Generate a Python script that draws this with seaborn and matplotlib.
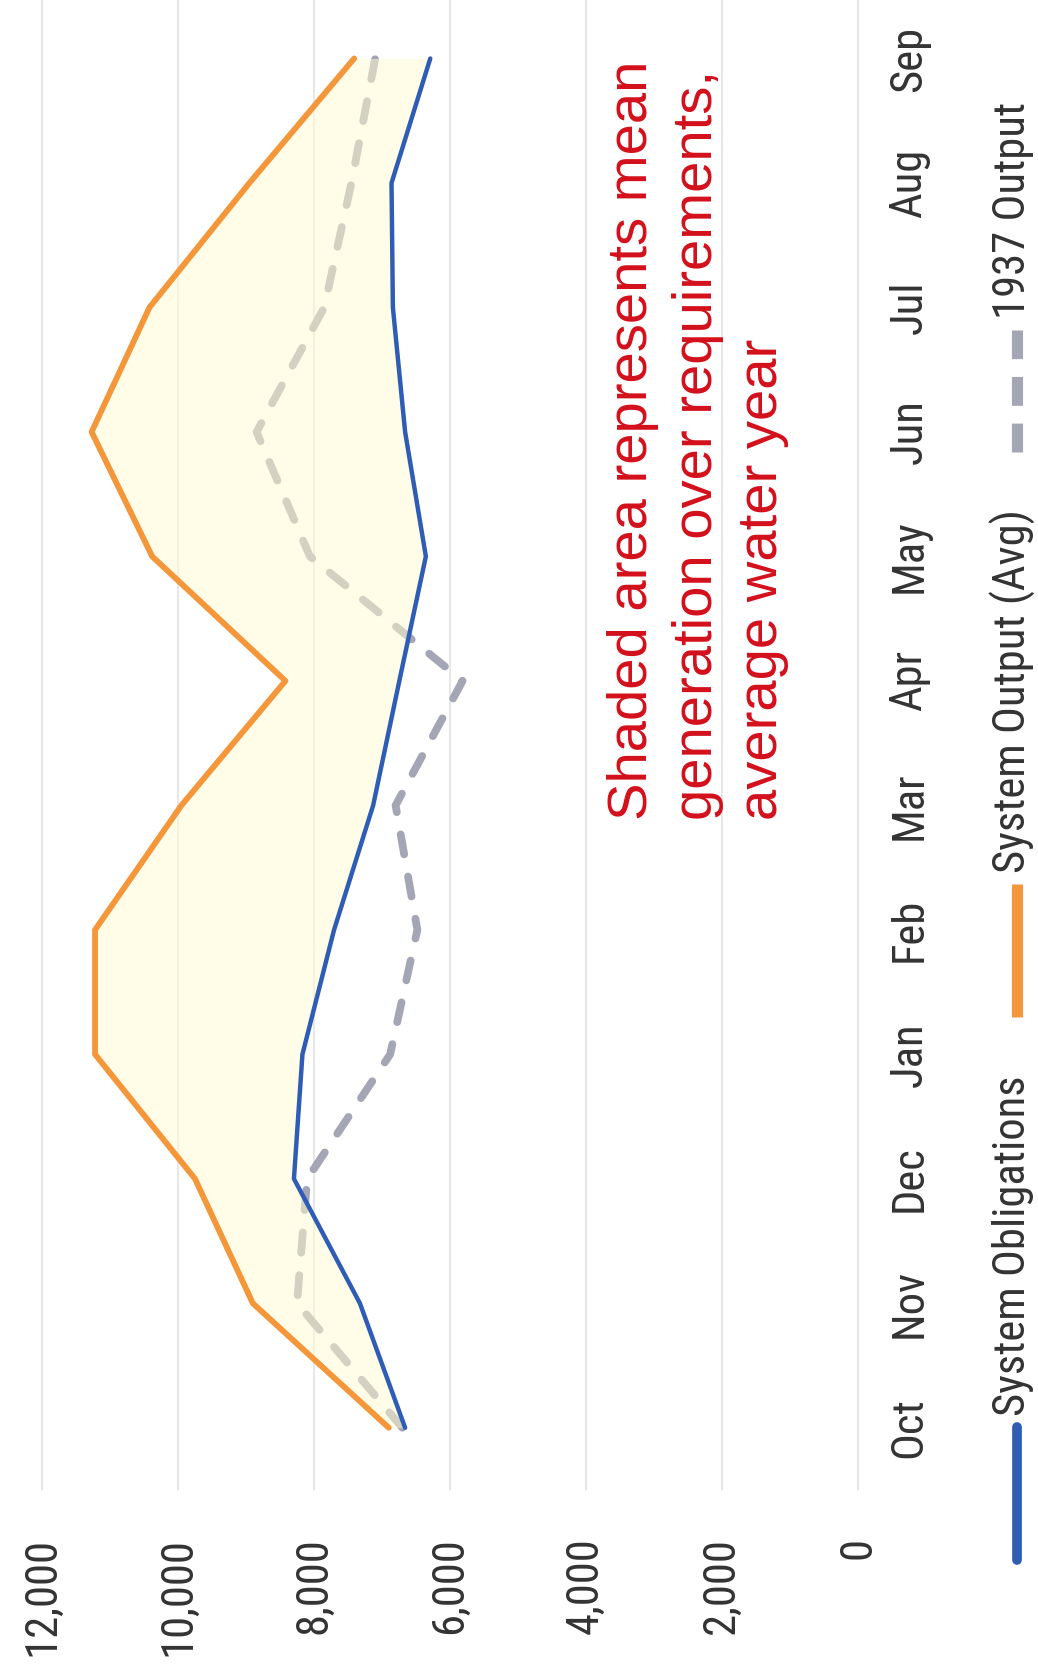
import numpy as np
import pandas as pd
import seaborn as sns
import matplotlib
matplotlib.use("Agg")
import matplotlib.pyplot as plt
from matplotlib import font_manager as fm
from matplotlib.font_manager import FontProperties
from matplotlib.textpath import TextToPath
from matplotlib.lines import Line2D

# ---------------- data ----------------
months = ["Oct", "Nov", "Dec", "Jan", "Feb", "Mar", "Apr", "May", "Jun", "Jul", "Aug", "Sep"]
system_obligations = [6660, 7325, 8295, 8170, 7705, 7130, 6745, 6355, 6660, 6840, 6860, 6290]
system_output_avg = [6900, 8900, 9750, 11220, 11220, 9950, 8420, 10380, 11270, 10420, 8950, 7410]
output_1937 = [6700, 8250, 8100, 6880, 6480, 6800, 5815, 8060, 8845, 7850, 7450, 7100]
value_ticks = [0, 2000, 4000, 6000, 8000, 10000, 12000]
value_tick_labels = ["0", "2,000", "4,000", "6,000", "8,000", "10,000", "12,000"]
series_names = ["System Obligations", "System Output (Avg)", "1937 Output"]
note_text = "Shaded area represents mean\ngeneration over requirements,\naverage water year"

pos = list(range(len(months)))
df = pd.DataFrame({"pos": pos, "oblig": system_obligations,
                   "output": system_output_avg, "y1937": output_1937})

# ---------------- style ----------------
sns.set_style("white")
plt.rcParams["font.family"] = ["Liberation Sans", "DejaVu Sans"]

# choose a narrow / condensed face if one is installed
def pick_narrow():
    cands = []
    for f in fm.fontManager.ttflist:
        nm = f.name
        narrow = ("Narrow" in nm or "Condensed" in nm or
                  str(f.stretch) in ("condensed", "semi-condensed", "extra-condensed", "ultra-condensed")
                  or (isinstance(f.stretch, (int, float)) and f.stretch < 500))
        if not narrow or f.style != "normal":
            continue
        try:
            w = int(f.weight)
        except Exception:
            w = 400 if f.weight in ("normal", "regular", "book") else 700
        if w > 500 or w < 350:
            continue
        pref = 9
        for i, key in enumerate(["Liberation Sans Narrow", "Open Sans", "Noto Sans", "Roboto", "DejaVu Sans", "Lato", "Inter"]):
            if nm.startswith(key):
                pref = i
                break
        if "CJK" in nm or "Mono" in nm or "Serif" in nm:
            continue
        cands.append((pref, f.fname))
    if cands:
        cands.sort()
        return FontProperties(fname=cands[0][1])
    return FontProperties(family="Liberation Sans")

label_fp = pick_narrow()
# size the labels so "System Obligations" spans ~341 px like the reference
probe = label_fp.copy()
probe.set_size(100)
wpt, _, _ = TextToPath().get_text_width_height_descent("System Obligations", probe, ismath=False)
label_size = 100 * (341 * 0.72) / wpt
label_size = max(24, min(label_size, 38))

BLUE = "#2F5DB5"
ORANGE = "#F4963A"
GRAY = "#A5A6B5"
FILL = "#FFFCD0"
RED = "#D3101C"
TXT = "#333333"

W, H = 1038, 1669
fig = plt.figure(figsize=(W / 100, H / 100), dpi=100)
ax = fig.add_axes([42 / W, (H - 1490) / H, 816 / W, 1490 / H])

# 1937 output (under the shading)
sns.lineplot(data=df, x="y1937", y="pos", orient="y", ax=ax, color=GRAY,
             linewidth=5.6, linestyle=(0, (2.6, 2.9)), dash_capstyle="round",
             zorder=2, legend=False)
# shaded area between obligations and output
ax.fill_betweenx(df["pos"], df["oblig"], df["output"], color=FILL, alpha=0.5,
                 linewidth=0, zorder=3)
sns.lineplot(data=df, x="oblig", y="pos", orient="y", ax=ax, color=BLUE,
             linewidth=3.2, zorder=4, legend=False)
sns.lineplot(data=df, x="output", y="pos", orient="y", ax=ax, color=ORANGE,
             linewidth=4.2, zorder=4, legend=False)

ax.set_xlim(12000, 0)
ax.set_ylim(-0.5, 11.47)
ax.set_xlabel("")
ax.set_ylabel("")

ax.set_xticks(value_ticks, labels=value_tick_labels)
ax.tick_params(axis="x", length=0, pad=34, labelrotation=90, labelcolor=TXT)
ax.yaxis.tick_right()
ax.set_yticks(pos, labels=months)
ax.tick_params(axis="y", length=0, pad=22, labelrotation=90, labelcolor=TXT)
for t in ax.get_xticklabels():
    t.set_fontproperties(label_fp)
    t.set_fontsize(label_size)
for t in ax.get_yticklabels():
    t.set_fontproperties(label_fp)
    t.set_fontsize(label_size)
    t.set_va("center")
    t.set_ha("left")

ax.grid(axis="x", color="#E3E3E6", linewidth=1.2)
ax.grid(axis="y", visible=False)
for gl in ax.get_xgridlines():
    gl.set_clip_on(False)
for s in ax.spines.values():
    s.set_visible(False)

# annotation
fig.text(698 / W, (H - 820) / H, note_text, rotation=90, ha="center", va="bottom",
         multialignment="left", color=RED, fontsize=40.5, linespacing=1.33,
         family=["Liberation Sans", "DejaVu Sans"])

# legend (rotated, placed like the reference)
def px(x, y_top):
    return x / W, (H - y_top) / H

lx = 1017
x0, y0 = px(lx, 1560); x1, y1 = px(lx, 1427)
fig.add_artist(Line2D([x0, x1], [y0, y1], color=BLUE, linewidth=7,
                      solid_capstyle="round", transform=fig.transFigure))
x0, y0 = px(lx, 1017); x1, y1 = px(lx, 884)
fig.add_artist(Line2D([x0, x1], [y0, y1], color=ORANGE, linewidth=8,
                      solid_capstyle="butt", transform=fig.transFigure))
x0, y0 = px(lx, 452); x1, y1 = px(lx, 330)
fig.add_artist(Line2D([x0, x1], [y0, y1], color=GRAY, linewidth=8,
                      linestyle=(0, (2.6, 1.6)), dash_capstyle="butt",
                      transform=fig.transFigure))
for name, ystart in zip(series_names, [1416, 873, 319]):
    tx, ty = px(1013, ystart)
    txt = fig.text(tx, ty, name, rotation=90, ha="center", va="bottom", color=TXT)
    txt.set_fontproperties(label_fp)
    txt.set_fontsize(label_size)

fig.savefig("out.png", dpi=100)
